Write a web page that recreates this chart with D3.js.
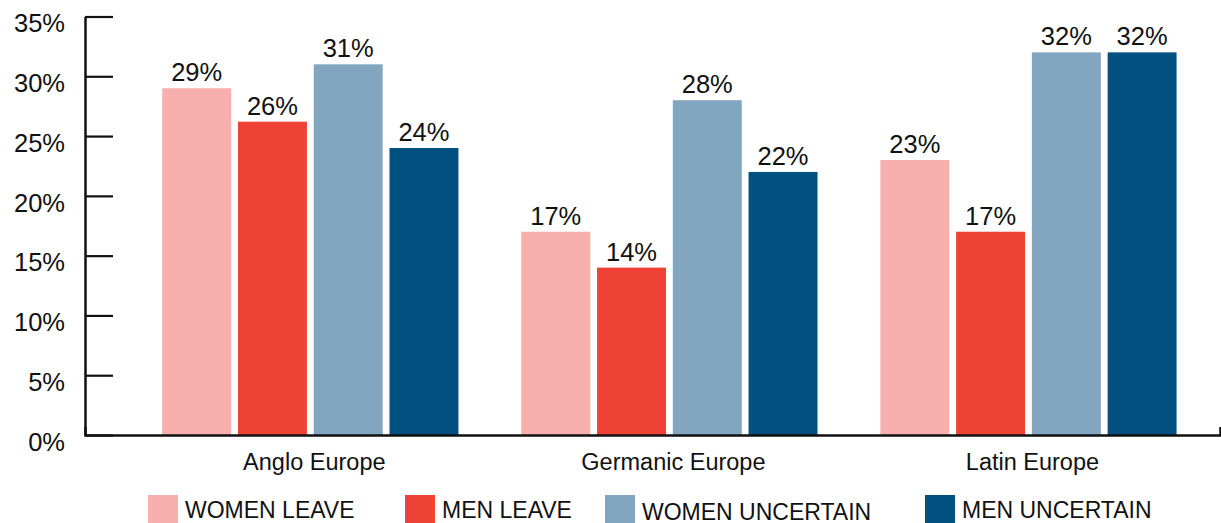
<!DOCTYPE html>
<html>
<head>
<meta charset="utf-8">
<script src="https://cdn.jsdelivr.net/npm/d3@7"></script>
<style>
  body { margin:0; background:#fff; }
  svg { display:block; font-family:Helvetica, Arial, "Liberation Sans", sans-serif; }
</style>
</head>
<body>
<svg id="chart"></svg>
<script>
var regions = ["Anglo Europe","Germanic Europe","Latin Europe"];
var seriesNames = ["WOMEN LEAVE","MEN LEAVE","WOMEN UNCERTAIN","MEN UNCERTAIN"];
var womenLeave = [29,17,23];
var menLeave = [26.2,14,17];
var womenUncertain = [31,28,32];
var menUncertain = [24,22,32];
var yTicks = [0,5,10,15,20,25,30,35];
var colors = ["#f7b0ae","#ef4237","#82a6c0","#02507f"];

var seriesValues = [womenLeave,menLeave,womenUncertain,menUncertain];

makeChart(1221,523,"svg#chart");

function makeChart(w,h,svgName) {
  var svg = d3.select(svgName)
              .attr("width",w)
              .attr("height",h);

  var margins = {left:85,right:1,top:16.5,bottom:88};
  var width = w-margins.left-margins.right;
  var height = h-margins.top-margins.bottom;

  var xScale = d3.scaleBand()
                 .domain(regions)
                 .range([0,width])
                 .paddingInner(0.175)
                 .paddingOuter(0.168)
                 .align(0.64);
  var xInner = d3.scaleBand()
                 .domain(seriesNames)
                 .range([0,xScale.bandwidth()])
                 .paddingInner(0.09);
  var yScale = d3.scaleLinear()
                 .domain([0,35])
                 .range([height,0]);
  var colorScale = d3.scaleOrdinal()
                     .domain(seriesNames)
                     .range(colors);

  var plot = svg.append("g")
                .attr("transform","translate("+margins.left+","+margins.top+")");

  var groups = plot.selectAll("g.region")
                   .data(regions)
                   .enter()
                   .append("g")
                   .classed("region",true)
                   .attr("transform",function(d){
                     return "translate("+xScale(d)+",0)";
                   });

  var cells = groups.selectAll("g.cell")
                    .data(function(d,i){
                      return seriesNames.map(function(s,j){
                        return {series:s,value:seriesValues[j][i]};
                      });
                    })
                    .enter()
                    .append("g")
                    .classed("cell",true);

  cells.append("rect")
       .attr("x",function(d){ return xInner(d.series); })
       .attr("y",function(d){ return yScale(d.value); })
       .attr("width",xInner.bandwidth())
       .attr("height",function(d){ return height-yScale(d.value); })
       .attr("fill",function(d){ return colorScale(d.series); });

  cells.append("text")
       .attr("x",function(d){ return xInner(d.series)+xInner.bandwidth()/2; })
       .attr("y",function(d){ return yScale(d.value)-7; })
       .attr("text-anchor","middle")
       .attr("font-size",25.5)
       .attr("fill","#111")
       .text(function(d){ return Math.round(d.value)+"%"; });

  // x axis with the small upturned end
  var xAxis = d3.axisBottom(xScale)
                .tickSize(0)
                .tickSizeOuter(-8)
                .tickPadding(18);
  var xg = plot.append("g")
               .attr("transform","translate(0,"+height+")")
               .call(xAxis);
  xg.select(".domain").attr("stroke","#111").attr("stroke-width",2.5);
  xg.selectAll("text")
    .attr("font-size",23.5)
    .attr("font-family","Helvetica, Arial, 'Liberation Sans', sans-serif")
    .attr("fill","#111")
    .attr("dx",4);

  var yAxis = d3.axisLeft(yScale)
                .tickValues(yTicks)
                .tickSize(-28)
                .tickSizeOuter(0)
                .tickPadding(20)
                .tickFormat(function(d){ return d+"%"; });
  var yg = plot.append("g")
               .call(yAxis);
  yg.select(".domain").attr("stroke","#111").attr("stroke-width",2.5);
  yg.selectAll(".tick line").attr("stroke","#111").attr("stroke-width",2.2);
  yg.selectAll("text")
    .attr("font-size",25.5)
    .attr("font-family","Helvetica, Arial, 'Liberation Sans', sans-serif")
    .attr("fill","#111")
    .attr("dy","0.6em");

  // legend
  var legendX = [148,405,605,925];
  var legendDy = [0,0,2,0];
  var legend = svg.append("g")
                  .attr("transform","translate(0,495)");
  var items = legend.selectAll("g")
                    .data(seriesNames)
                    .enter()
                    .append("g")
                    .attr("transform",function(d,i){
                      return "translate("+legendX[i]+",0)";
                    });
  items.append("rect")
       .attr("width",30)
       .attr("height",28)
       .attr("fill",function(d){ return colorScale(d); });
  items.append("text")
       .attr("x",37)
       .attr("y",function(d,i){ return 22.5+legendDy[i]; })
       .attr("font-size",23)
       .attr("fill","#111")
       .text(function(d){ return d; });
}
</script>
</body>
</html>
